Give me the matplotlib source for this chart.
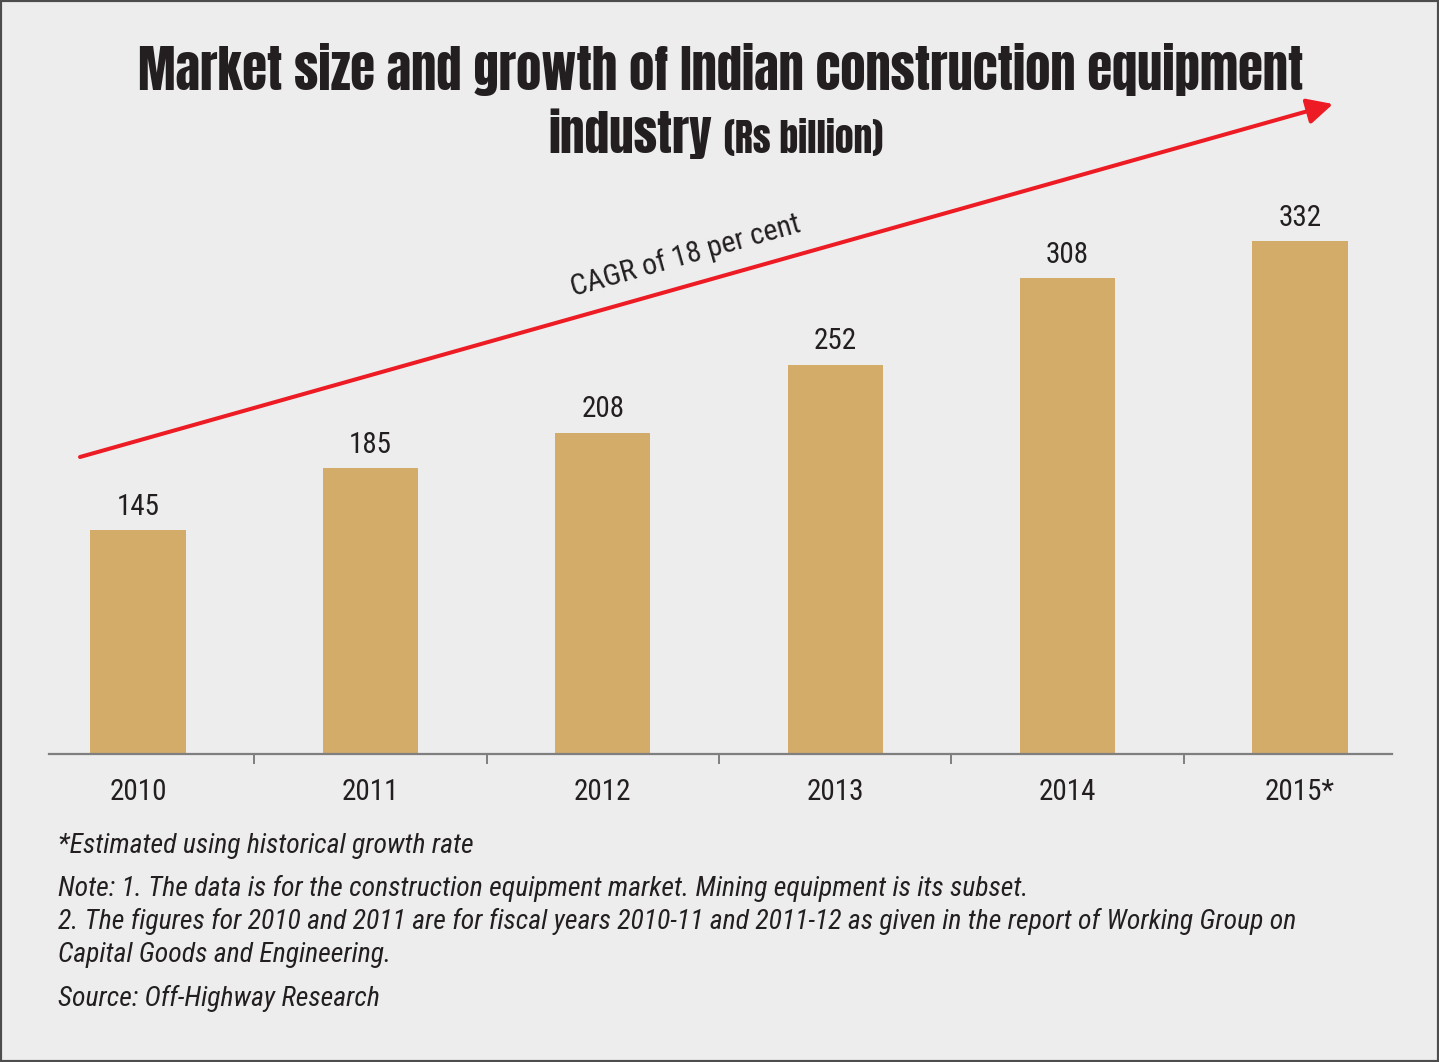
import matplotlib
matplotlib.use("Agg")
import matplotlib.pyplot as plt
from matplotlib.patches import FancyArrowPatch, Rectangle

# chart data
years = ["2010", "2011", "2012", "2013", "2014", "2015*"]
market_size = [145, 185, 208, 252, 308, 332]

title_line1 = "Market size and growth of Indian construction equipment"
title_line2 = "industry"
title_unit = "(Rs billion)"
cagr_label = "CAGR of 18 per cent"
notes = [
    "*Estimated using historical growth rate",
    "Note: 1. The data is for the construction equipment market. Mining equipment is its subset.",
    "2. The figures for 2010 and 2011 are for fiscal years 2010-11 and 2011-12 as given in the report of Working Group on",
    "Capital Goods and Engineering.",
    "Source: Off-Highway Research",
]

BG = "#ededed"
BAR = "#d3ac6a"
RED = "#ed1c24"
TXT = "#231f20"
BODY = ["Roboto Condensed", "Archivo Narrow", "DejaVu Sans"]
HEAD = ["Anton", "Oswald", "DejaVu Sans"]

plt.rcParams["font.family"] = BODY

W, H = 1439, 1062
fig = plt.figure(figsize=(W / 100, H / 100), dpi=100, facecolor=BG)

# helpers to place things by pixel position
def fx(px):
    return px / W

def fy(py):
    return 1 - py / H

ax_left, ax_right, ax_base, ax_top = 49, 1392, 754, 100
ax = fig.add_axes([fx(ax_left), fy(ax_base), fx(ax_right - ax_left), (ax_base - ax_top) / H])
ax.set_facecolor("none")

x = list(range(len(years)))
ax.bar(x, market_size, width=0.41, color=BAR, zorder=2)

spacing = 232.4
ax.set_xlim((ax_left - 138) / spacing, (ax_right - 138) / spacing)
ax.set_ylim(0, (ax_base - ax_top) / 1.545)

for s in ["top", "left", "right"]:
    ax.spines[s].set_visible(False)
ax.spines["bottom"].set_color("#7f7f7f")
ax.spines["bottom"].set_linewidth(1.6)
ax.set_yticks([])
ax.set_xticks(x)
ax.set_xticklabels(years, fontsize=21, color=TXT)
ax.tick_params(axis="x", which="major", length=0, pad=17)
ax.set_xticks([i + 0.5 for i in x[:-1]], minor=True)
ax.tick_params(axis="x", which="minor", length=7, width=1.4, color="#7f7f7f", direction="out")

for xi, v in zip(x, market_size):
    ax.annotate(str(v), (xi, v), xytext=(0, 11), textcoords="offset points",
                ha="center", va="baseline", fontsize=21, color=TXT)

# title
fig.text(fx(721), fy(90), title_line1, ha="center", va="baseline",
         fontsize=36.4, family=HEAD, color=TXT)
fig.text(fx(712), fy(153), title_line2, ha="right", va="baseline",
         fontsize=35.5, family=HEAD, color=TXT)
fig.text(fx(724), fy(153), title_unit, ha="left", va="baseline",
         fontsize=27, family=HEAD, color=TXT)

# growth arrow
arrow = FancyArrowPatch((fx(80), fy(457)), (fx(1333), fy(104)),
                        transform=fig.transFigure,
                        arrowstyle="-|>,head_length=1.3,head_width=0.65",
                        mutation_scale=12, color=RED, lw=2.9, shrinkA=0, shrinkB=0)
fig.add_artist(arrow)
fig.text(fx(686), fy(256), cagr_label, ha="center", va="center", rotation=15.8,
         fontsize=21.5, color=TXT, rotation_mode="anchor")

# footnotes
note_baselines = [853, 896, 929, 962, 1006]
for txt, yb in zip(notes, note_baselines):
    fig.text(fx(58), fy(yb), txt, ha="left", va="baseline", fontsize=20,
             style="italic", color=TXT)

# border
fig.add_artist(Rectangle((0, 0), 1, 1, transform=fig.transFigure, fill=False,
                         edgecolor="#4d4d4d", lw=3))

fig.savefig("out.png", dpi=100, facecolor=BG)
